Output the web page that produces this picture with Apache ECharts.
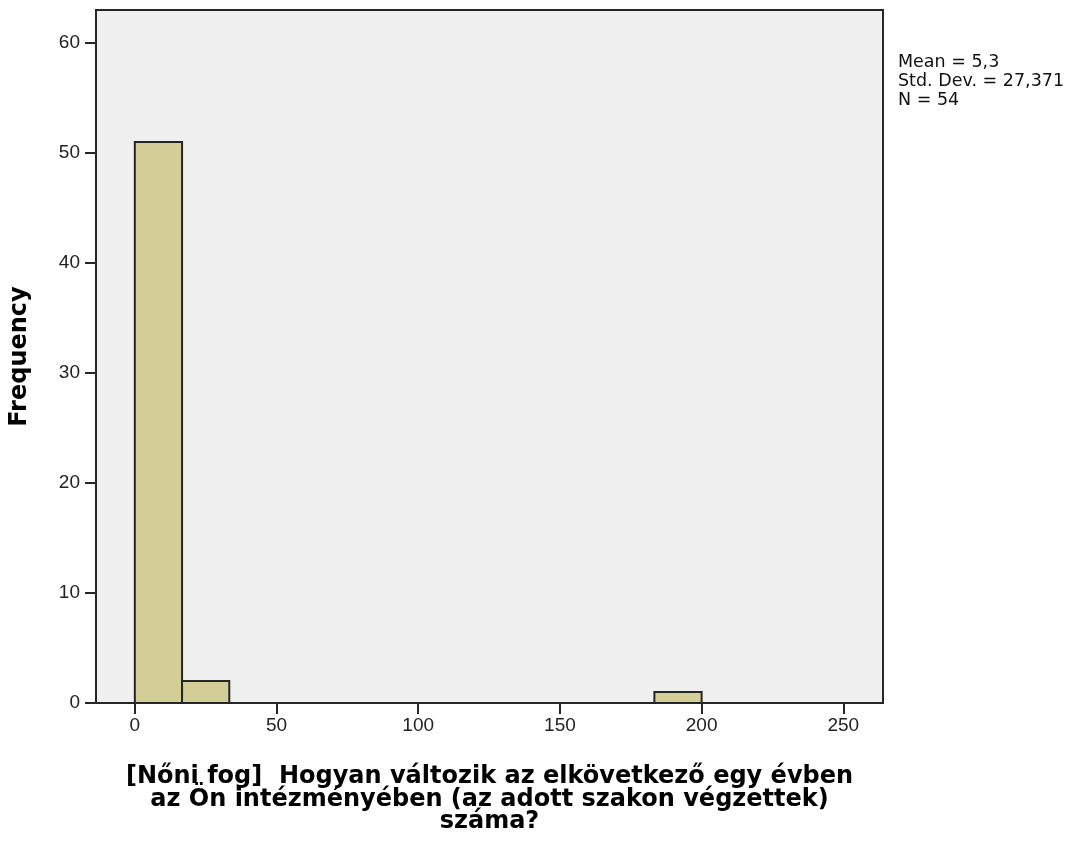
<!DOCTYPE html>
<html>
<head>
<meta charset="utf-8">
<script src="https://cdn.jsdelivr.net/npm/echarts@6/dist/echarts.min.js"></script>
<style>
html,body{margin:0;padding:0;background:#fff;}
#chart{width:1070px;height:846px;}
</style>
</head>
<body>
<div id="chart"></div>
<script>
// Histogram bins (lower edge, upper edge) and frequencies (only non-empty bins)
var binLow  = [0, 16.667, 183.333];
var binHigh = [16.667, 33.333, 200];
var freq    = [51, 2, 1];

var xTicks = [0, 50, 100, 150, 200, 250];
var yTicks = [0, 10, 20, 30, 40, 50, 60];

var statsLines = ['Mean = 5,3', 'Std. Dev. = 27,371', 'N = 54'];
var xTitle = '[Nőni fog]  Hogyan változik az elkövetkező egy évben\naz Ön intézményében (az adott szakon végzettek)\nszáma?';
var yTitle = 'Frequency';

var data = binLow.map(function (lo, i) { return [lo, binHigh[i], freq[i]]; });

var chart = echarts.init(document.getElementById('chart'));
chart.setOption({
  animation: false,
  backgroundColor: '#ffffff',
  grid: {
    left: 94, right: 187, top: 10, bottom: 143,
    show: true, backgroundColor: '#F0F0F0', borderColor: '#262626', borderWidth: 2
  },
  graphic: [{
    type: 'text', left: 898, top: 53,
    style: { text: statsLines.join('\n'), font: '17.5px "DejaVu Sans", sans-serif', fill: '#111', lineHeight: 19 }
  }],
  xAxis: {
    type: 'value', min: -13.7, max: 264,
    name: xTitle, nameLocation: 'middle', nameGap: 63,
    nameTextStyle: { fontFamily: '"DejaVu Sans", sans-serif', fontWeight: 'bold', fontSize: 24, color: '#000', lineHeight: 22.5 },
    axisLine: { show: true, onZero: false, lineStyle: { color: '#262626', width: 2 } },
    axisTick: { show: true, inside: false, length: 11, customValues: xTicks, lineStyle: { color: '#262626', width: 2 } },
    axisLabel: { customValues: xTicks, fontFamily: 'Arial, "Liberation Sans", sans-serif', fontSize: 19, color: '#222', margin: 13 },
    splitLine: { show: false }
  },
  yAxis: {
    type: 'value', min: 0, max: 63,
    name: yTitle, nameLocation: 'middle', nameGap: 64,
    nameTextStyle: { fontFamily: '"DejaVu Sans", sans-serif', fontWeight: 'bold', fontSize: 24, color: '#000' },
    axisLine: { show: true, onZero: false, lineStyle: { color: '#262626', width: 2 } },
    axisTick: { show: true, inside: false, length: 11, customValues: yTicks, lineStyle: { color: '#262626', width: 2 } },
    axisLabel: { customValues: yTicks, fontFamily: 'Arial, "Liberation Sans", sans-serif', fontSize: 19, color: '#222', margin: 16 },
    splitLine: { show: false }
  },
  series: [{
    type: 'custom',
    data: data,
    encode: { x: [0, 1], y: 2 },
    renderItem: function (params, api) {
      var p0 = api.coord([api.value(0), 0]);
      var p1 = api.coord([api.value(1), api.value(2)]);
      return {
        type: 'rect',
        shape: { x: p0[0], y: p1[1], width: p1[0] - p0[0], height: p0[1] - p1[1] },
        style: { fill: '#D3CE97', stroke: '#262626', lineWidth: 2 }
      };
    }
  }]
});
</script>
</body>
</html>
